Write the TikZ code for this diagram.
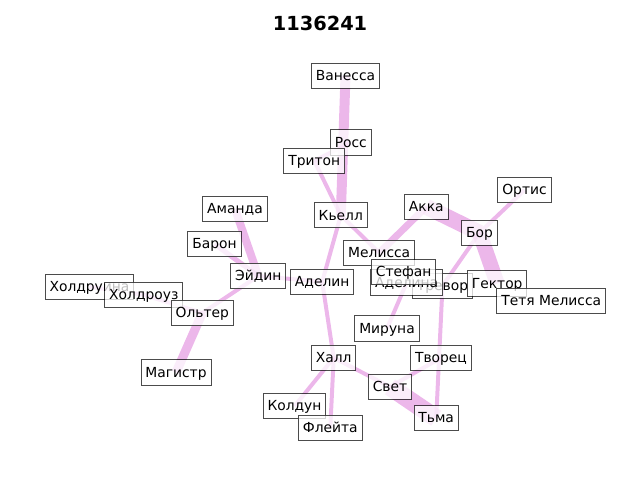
\documentclass[tikz,border=0pt]{standalone}
\usepackage{fontspec}
\setmainfont{DejaVu Sans}
\pgfdeclarelayer{bg}
\pgfsetlayers{bg,main}
\definecolor{linkpink}{RGB}{218,112,214}
\tikzset{
  person/.style={draw=black, fill=white, draw opacity=0.7, fill opacity=0.75,
    text opacity=1, line width=0.7pt, inner xsep=3.2pt, inner ysep=3.2pt,
    text height=9.3pt, text depth=2.4pt, font=\fontsize{10}{12}\selectfont},
  link/.style={draw=linkpink, draw opacity=0.5, line width=#1*0.72pt},
  link/.default=4
}
\begin{document}
\begin{tikzpicture}[x=0.01in, y=-0.01in]
  \useasboundingbox (0,0) rectangle (640,480);
  \node [font=\bfseries\fontsize{14}{16}\selectfont] (title) at (320,23) {1136241};

  \node [person] (vanessa)  at (345.5,75.8)  {Ванесса};
  \node [person] (ross)     at (350.8,142.5) {Росс};
  \node [person] (triton)   at (314.3,160.8) {Тритон};
  \node [person] (kjell)    at (340.8,215.3) {Кьелл};
  \node [person] (amanda)   at (235,209)     {Аманда};
  \node [person] (baron)    at (214.5,244)   {Барон};
  \node [person] (ejdin)    at (258.3,276)   {Эйдин};
  \node [person] (holdruna) at (89.5,286.7)  {Холдруина};
  \node [person] (holdrouz) at (143.8,294.8) {Холдроуз};
  \node [person] (olter)    at (202.3,313)   {Ольтер};
  \node [person] (magistr)  at (176,372.5)   {Магистр};
  \node [person] (adelin)   at (322.2,281.8) {Аделин};
  \node [person] (akka)     at (426.3,206.8) {Акка};
  \node [person] (ortis)    at (524.5,190)   {Ортис};
  \node [person] (bor)      at (479.5,232.8) {Бор};
  \node [person] (melissa)  at (379.2,252.8) {Мелисса};
  \node [person] (trevor)   at (442.5,285.8) {Тревор};
  \node [person] (adelina)  at (406.7,282.5) {Аделина};
  \node [person] (stefan)   at (403.7,272.2) {Стефан};
  \node [person] (hektor)   at (497.2,283.5) {Гектор};
  \node [person] (aunt)     at (551.2,300.8) {Тетя Мелисса};
  \node [person] (miruna)   at (387,328.5)   {Мируна};
  \node [person] (hall)     at (333.7,357.8) {Халл};
  \node [person] (tvorets)  at (441,357.8)   {Творец};
  \node [person] (svet)     at (390,386.8)   {Свет};
  \node [person] (koldun)   at (294.5,406.2) {Колдун};
  \node [person] (flejta)   at (330.3,427.7) {Флейта};
  \node [person] (tma)      at (436.2,418.2) {Тьма};

  \begin{pgfonlayer}{bg}
    \draw [link=10] (vanessa.center) -- (kjell.center);
    \draw [link]    (ross.center)    -- (triton.center);
    \draw [link]    (triton.center)  -- (kjell.center);
    \draw [link=8]  (amanda.center)  -- (ejdin.center);
    \draw [link=5]  (baron.center)   -- (ejdin.center);
    \draw [link]    (ejdin.center)   -- (adelin.center);
    \draw [link]    (ejdin.center)   -- (olter.center);
    \draw [link]    (holdruna.center) -- (holdrouz.center);
    \draw [link]    (holdrouz.center) -- (olter.center);
    \draw [link=9]  (olter.center)   -- (magistr.center);
    \draw [link]    (kjell.center)   -- (adelin.center);
    \draw [link]    (adelin.center)  -- (hall.center);
    \draw [link]    (kjell.center)   -- (melissa.center);
    \draw [link=7]  (akka.center)    -- (melissa.center);
    \draw [link=16] (akka.center)    -- (bor.center);
    \draw [link=15] (bor.center)     -- (hektor.center);
    \draw [link]    (bor.center)     -- (ortis.center);
    \draw [link]    (bor.center)     -- (trevor.center);
    \draw [link]    (trevor.center)  -- (tma.center);
    \draw [link]    (adelina.center) -- (miruna.center);
    \draw [link]    (tvorets.center) -- (svet.center);
    \draw [link]    (hall.center)    -- (svet.center);
    \draw [link=18] (svet.center)    -- (tma.center);
    \draw [link]    (hall.center)    -- (koldun.center);
    \draw [link]    (hall.center)    -- (flejta.center);
  \end{pgfonlayer}
\end{tikzpicture}
\end{document}
